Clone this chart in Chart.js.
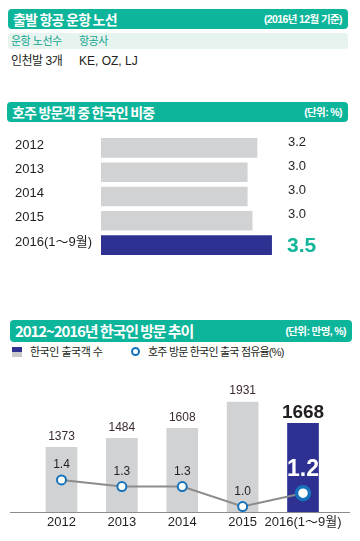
<!DOCTYPE html>
<html>
<head>
<meta charset="utf-8">
<script src="https://cdn.jsdelivr.net/npm/chart.js@4"></script>
<style>
  body { margin: 0; width: 360px; height: 541px; background: #fff; position: relative; overflow: hidden;
         font-family: "Liberation Sans", "Noto Sans CJK KR", sans-serif; color: #231f20; }
  .abs { position: absolute; white-space: nowrap; }
  .hdr { position: absolute; background: #0db59b; border-radius: 4px; color: #fff; }
  .hdr .t { position: absolute; left: 5px; font-weight: bold; font-family: "Noto Sans CJK KR", sans-serif; letter-spacing: -0.8px; white-space: nowrap; }
  .hdr .u { position: absolute; right: 6px; font-size: 10.5px; font-weight: bold; letter-spacing: -0.6px; white-space: nowrap; font-family: "Liberation Sans", "Noto Sans CJK KR", sans-serif; }
  .kr { font-family: "Liberation Sans", "Noto Sans CJK KR", sans-serif; }
  canvas { position: absolute; }
</style>
</head>
<body>

<!-- 출발 항공 운항 노선 -->
<div class="hdr" style="left:8px; top:9px; width:340px; height:20px;">
  <span class="t" style="font-size:14px; line-height:20px;">출발 항공 운항 노선</span>
  <span class="u" style="line-height:20px;">(2016년 12월 기준)</span>
</div>
<div class="abs" style="left:8px; top:33px; width:340px; height:16px; background:#e6f3ef; border-radius:3px;"></div>
<div class="abs kr" style="left:11px; top:33px; line-height:16px; font-size:11px; color:#12a68e; letter-spacing:-0.5px;">운항 노선수</div>
<div class="abs kr" style="left:79px; top:33px; line-height:16px; font-size:11px; color:#12a68e; letter-spacing:-0.5px;">항공사</div>
<div class="abs kr" style="left:11px; top:52px; line-height:18px; font-size:12px; letter-spacing:-0.5px;">인천발 3개</div>
<div class="abs kr" style="left:79px; top:52px; line-height:18px; font-size:12px;">KE, OZ, LJ</div>

<!-- 호주 방문객 중 한국인 비중 -->
<div class="hdr" style="left:7px; top:102px; width:341px; height:20px;">
  <span class="t" style="font-size:14px; line-height:20px;">호주 방문객 중 한국인 비중</span>
  <span class="u" style="line-height:20px;">(단위: %)</span>
</div>
<canvas id="share-chart" style="left:0; top:128px;" width="360" height="137"></canvas>

<!-- 2012~2016년 한국인 방문 추이 -->
<div class="hdr" style="left:10px; top:320px; width:342px; height:22px;">
  <span class="t" style="font-size:15px; line-height:22px; letter-spacing:-1.1px;">2012~2016년 한국인 방문 추이</span>
  <span class="u" style="line-height:22px;">(단위: 만명, %)</span>
</div>
<div class="abs" style="left:12px; top:347px; width:10px; height:5px; background:#2e3192;"></div>
<div class="abs" style="left:12px; top:352px; width:10px; height:5px; background:#c8c9cb;"></div>
<div class="abs kr" style="left:30px; top:344px; line-height:16px; font-size:11px; letter-spacing:-0.5px;">한국인 출국객 수</div>
<div class="abs" style="left:131px; top:347px; width:5px; height:5px; border:2.5px solid #1673bb; border-radius:50%; background:#fff;"></div>
<div class="abs kr" style="left:148px; top:344px; line-height:16px; font-size:11px; letter-spacing:-0.8px;">호주 방문 한국인 출국 점유율(%)</div>
<canvas id="trend-chart" style="left:0; top:365px;" width="360" height="176"></canvas>

<script>
/* data */
const shareYears = ['2012', '2013', '2014', '2015', '2016(1～9월)'];
const shareValues = [3.2, 3.0, 3.0, 3.1, 3.5];          // bar lengths as drawn
const shareLabels = ['3.2', '3.0', '3.0', '3.0', '3.5']; // printed values

const trendYears = ['2012', '2013', '2014', '2015', '2016(1～9월)'];
const visitors = [1373, 1484, 1608, 1931, 1668];        // 만명
const visitShare = [1.4, 1.3, 1.3, 1.0, 1.2];           // %

const GRAY = '#d1d2d4';
const NAVY = '#2e3192';
const TEAL = '#12b59a';
const INK = '#231f20';
const lastIdx = shareYears.length - 1;

/* 호주 방문객 중 한국인 비중 */
const shareValuePlugin = {
  id: 'shareValues',
  afterDatasetsDraw(chart) {
    const ctx = chart.ctx;
    const meta = chart.getDatasetMeta(0);
    const colX = chart.chartArea.left + 187;
    ctx.save();
    ctx.textBaseline = 'middle';
    meta.data.forEach((bar, i) => {
      if (i === lastIdx) {
        ctx.font = 'bold 21px "Liberation Sans", sans-serif';
        ctx.fillStyle = TEAL;
        ctx.fillText(shareLabels[i], colX - 1, bar.y + 1);
      } else {
        ctx.font = '13px "Liberation Sans", sans-serif';
        ctx.fillStyle = INK;
        ctx.fillText(shareLabels[i], colX, bar.y - 6);
      }
    });
    ctx.restore();
  }
};

new Chart(document.getElementById('share-chart'), {
  type: 'bar',
  data: {
    labels: shareYears,
    datasets: [{
      data: shareValues,
      backgroundColor: shareValues.map((v, i) => i === lastIdx ? NAVY : GRAY),
      barThickness: 19
    }]
  },
  options: {
    indexAxis: 'y',
    responsive: false,
    animation: false,
    layout: { padding: { left: 15, right: 15.25, top: 1.7, bottom: 2.3 } },
    plugins: { legend: { display: false }, tooltip: { enabled: false } },
    scales: {
      x: { display: false, min: 0, max: 5 },
      y: {
        grid: { display: false, drawTicks: false },
        border: { display: false },
        afterFit: s => { s.width = 86; },
        ticks: {
          crossAlign: 'far',
          color: INK,
          padding: 0,
          labelOffset: -3,
          autoSkip: false,
          font: { size: 13, family: '"Liberation Sans", "Noto Sans CJK KR", sans-serif' }
        }
      }
    }
  },
  plugins: [shareValuePlugin]
});

/* 2012~2016년 한국인 방문 추이 */
const trendPlugin = {
  id: 'trendLabels',
  afterDatasetsDraw(chart) {
    const ctx = chart.ctx;
    const area = chart.chartArea;
    const barMeta = chart.getDatasetMeta(1);
    const lineMeta = chart.getDatasetMeta(0);
    ctx.save();
    // baseline
    ctx.strokeStyle = '#8c8c8c';
    ctx.lineWidth = 1;
    ctx.beginPath();
    ctx.moveTo(10, area.bottom + 0.5);
    ctx.lineTo(350, area.bottom + 0.5);
    ctx.stroke();

    ctx.textAlign = 'center';
    ctx.textBaseline = 'middle';
    barMeta.data.forEach((bar, i) => {
      if (i === lastIdx) {
        ctx.font = 'bold 19px "Liberation Sans", sans-serif';
        ctx.fillStyle = INK;
        ctx.fillText(String(visitors[i]), bar.x, bar.y - 11);
      } else {
        ctx.font = '12px "Liberation Sans", sans-serif';
        ctx.fillStyle = '#3b2b2e';
        ctx.fillText(String(visitors[i]), bar.x, bar.y - 11);
      }
    });
    lineMeta.data.forEach((pt, i) => {
      if (i === lastIdx) {
        ctx.font = 'bold 23px "Liberation Sans", sans-serif';
        ctx.fillStyle = '#fff';
        ctx.fillText(visitShare[i].toFixed(1), pt.x, pt.y - 24);
      } else {
        ctx.font = '12px "Liberation Sans", sans-serif';
        ctx.fillStyle = INK;
        ctx.fillText(visitShare[i].toFixed(1), pt.x, pt.y - 15);
      }
    });
    ctx.restore();
  }
};

new Chart(document.getElementById('trend-chart'), {
  data: {
    labels: trendYears,
    datasets: [
      {
        type: 'line',
        data: visitShare,
        yAxisID: 'y2',
        order: 0,
        borderColor: '#8c8c8c',
        borderWidth: 2,
        pointBackgroundColor: '#fff',
        pointBorderColor: '#1673bb',
        pointRadius: visitShare.map((v, i) => i === lastIdx ? 6.5 : 4.5),
        pointBorderWidth: visitShare.map((v, i) => i === lastIdx ? 3.5 : 2),
        tension: 0
      },
      {
        type: 'bar',
        data: visitors,
        yAxisID: 'y',
        order: 1,
        backgroundColor: visitors.map((v, i) => i === lastIdx ? NAVY : GRAY),
        barThickness: 31
      }
    ]
  },
  options: {
    responsive: false,
    animation: false,
    layout: { padding: { left: 31.3, right: 26.8, top: 5, bottom: 0 } },
    plugins: { legend: { display: false }, tooltip: { enabled: false } },
    scales: {
      x: {
        grid: { display: false, drawTicks: false },
        border: { display: false },
        afterFit: s => { s.height = 29; },
        ticks: {
          color: INK,
          padding: 3,
          maxRotation: 0,
          autoSkip: false,
          font: { size: 13, family: '"Liberation Sans", "Noto Sans CJK KR", sans-serif' }
        }
      },
      y: { display: false, min: 577, max: 2263 },
      y2: { display: false, min: 0.918, max: 2.976 }
    }
  },
  plugins: [trendPlugin]
});
</script>
</body>
</html>
